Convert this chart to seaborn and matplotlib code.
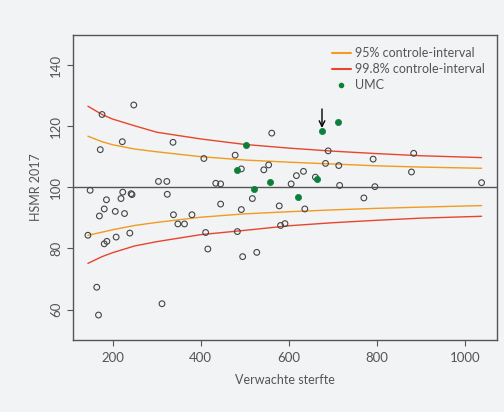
import matplotlib
matplotlib.use("Agg")
import matplotlib.pyplot as plt
import seaborn as sns
import pandas as pd
from matplotlib.lines import Line2D

# expected deaths vs HSMR, other hospitals
verwacht = [149, 144, 164, 168, 170, 172, 176, 181, 181, 186, 187, 206, 208, 219,
            222, 223, 227, 239, 242, 244, 248, 304, 312, 323, 324, 337, 338, 348,
            363, 380, 407, 411, 416, 434, 445, 445, 478, 483, 492, 492, 495, 517,
            527, 543, 554, 561, 578, 581, 591, 605, 617, 633, 636, 660, 683, 689,
            715, 713, 770, 791, 795, 878, 883, 1037]
hsmr = [99.0, 84.3, 67.3, 58.2, 90.6, 112.3, 123.8, 92.9, 81.5, 95.9, 82.3, 92.1,
        83.7, 96.3, 114.9, 98.4, 91.4, 85.0, 97.9, 97.6, 126.9, 101.9, 61.9, 101.9,
        97.7, 114.7, 91.0, 88.0, 88.0, 91.0, 109.4, 85.2, 79.8, 101.3, 101.1, 94.5,
        110.5, 85.5, 106.0, 92.7, 77.3, 96.3, 78.7, 105.7, 107.3, 117.7, 93.9, 87.5,
        88.1, 101.1, 103.8, 105.2, 92.9, 103.3, 107.8, 111.9, 100.6, 107.1, 96.5,
        109.2, 100.2, 105.0, 111.1, 101.5]

# university medical centres
verwacht_umc = [483, 503, 520, 558, 620, 664, 675, 711]
hsmr_umc = [105.7, 113.8, 99.5, 101.6, 96.8, 102.8, 118.3, 121.3]

# control limits
grens_x = [144, 176, 200, 250, 300, 400, 500, 600, 700, 800, 900, 1037]
boven_95 = [116.7, 114.9, 113.9, 112.5, 111.6, 110.0, 108.9, 108.2, 107.6, 107.0, 106.6, 106.2]
onder_95 = [84.3, 85.3, 86.1, 87.5, 88.5, 90.2, 91.3, 92.0, 92.6, 93.1, 93.5, 94.0]
boven_998 = [126.5, 123.8, 122.3, 120.1, 118.0, 115.8, 114.0, 112.8, 111.8, 111.0, 110.3, 109.7]
onder_998 = [75.1, 77.3, 78.6, 80.8, 82.2, 84.5, 85.9, 87.4, 88.4, 89.2, 89.9, 90.5]

bg = "#f1f3f5"
grijs = "#555555"
oranje = "#f39a1f"
rood = "#e8452c"
groen = "#0e7f3b"

sns.set_style("ticks")
plt.rcParams["font.family"] = ["Lato", "DejaVu Sans"]
plt.rcParams["text.color"] = grijs
plt.rcParams["axes.labelcolor"] = grijs
plt.rcParams["xtick.color"] = grijs
plt.rcParams["ytick.color"] = grijs

df = pd.DataFrame({"x": verwacht, "y": hsmr})
df_umc = pd.DataFrame({"x": verwacht_umc, "y": hsmr_umc})
grens = pd.DataFrame({"x": grens_x, "b95": boven_95, "o95": onder_95,
                      "b998": boven_998, "o998": onder_998})

fig = plt.figure(figsize=(5.04, 4.12), dpi=100, facecolor=bg)
ax = fig.add_axes([72.5 / 504, 1 - 339.5 / 412, (497 - 72.5) / 504, (339.5 - 35) / 412])
ax.set_facecolor(bg)

ax.axhline(100, color=grijs, lw=1, zorder=1)

for kol, kleur in [("b95", oranje), ("o95", oranje), ("b998", rood), ("o998", rood)]:
    sns.lineplot(data=grens, x="x", y=kol, ax=ax, color=kleur, lw=1.0, zorder=2)

sns.scatterplot(data=df, x="x", y="y", ax=ax, marker="o", s=17,
                facecolor="none", edgecolor="#444444", linewidth=0.8, zorder=3)
sns.scatterplot(data=df_umc, x="x", y="y", ax=ax, marker="o", s=20,
                color=groen, edgecolor=groen, linewidth=0.5, zorder=4)

# arrow above the highlighted UMC
ax.annotate("", xy=(675, 119.4), xytext=(675, 125.6),
            arrowprops=dict(arrowstyle="->", color="black", lw=1,
                            shrinkA=0, shrinkB=0))

ax.set_xlim(109, 1072)
ax.set_ylim(50.2, 149.8)
ax.set_xticks([200, 400, 600, 800, 1000])
ax.set_yticks([60, 80, 100, 120, 140])
ax.tick_params(axis="both", direction="out", length=4, width=0.8, labelsize=9.5)
ax.tick_params(axis="x", pad=5)
for lab in ax.get_yticklabels():
    lab.set_rotation(90)
    lab.set_va("center")
ax.set_xlabel("Verwachte sterfte", fontsize=9, labelpad=7)
ax.set_ylabel("HSMR 2017", fontsize=9, labelpad=6)

for sp in ax.spines.values():
    sp.set_visible(True)
    sp.set_color(grijs)
    sp.set_linewidth(1)

handles = [Line2D([], [], color=oranje, lw=1.5),
           Line2D([], [], color=rood, lw=1.5),
           Line2D([], [], color=groen, marker="o", ls="none", markersize=3)]
labels = ["95% controle-interval", "99.8% controle-interval", "UMC"]
ax.legend(handles, labels, loc="upper left", bbox_to_anchor=(332 / 504, 1 - 47 / 412),
          bbox_transform=fig.transFigure, frameon=False, fontsize=9,
          handlelength=1.5, handletextpad=0.35, labelspacing=0.33,
          borderpad=0, borderaxespad=0)

fig.savefig("out.png", dpi=100, facecolor=bg)
